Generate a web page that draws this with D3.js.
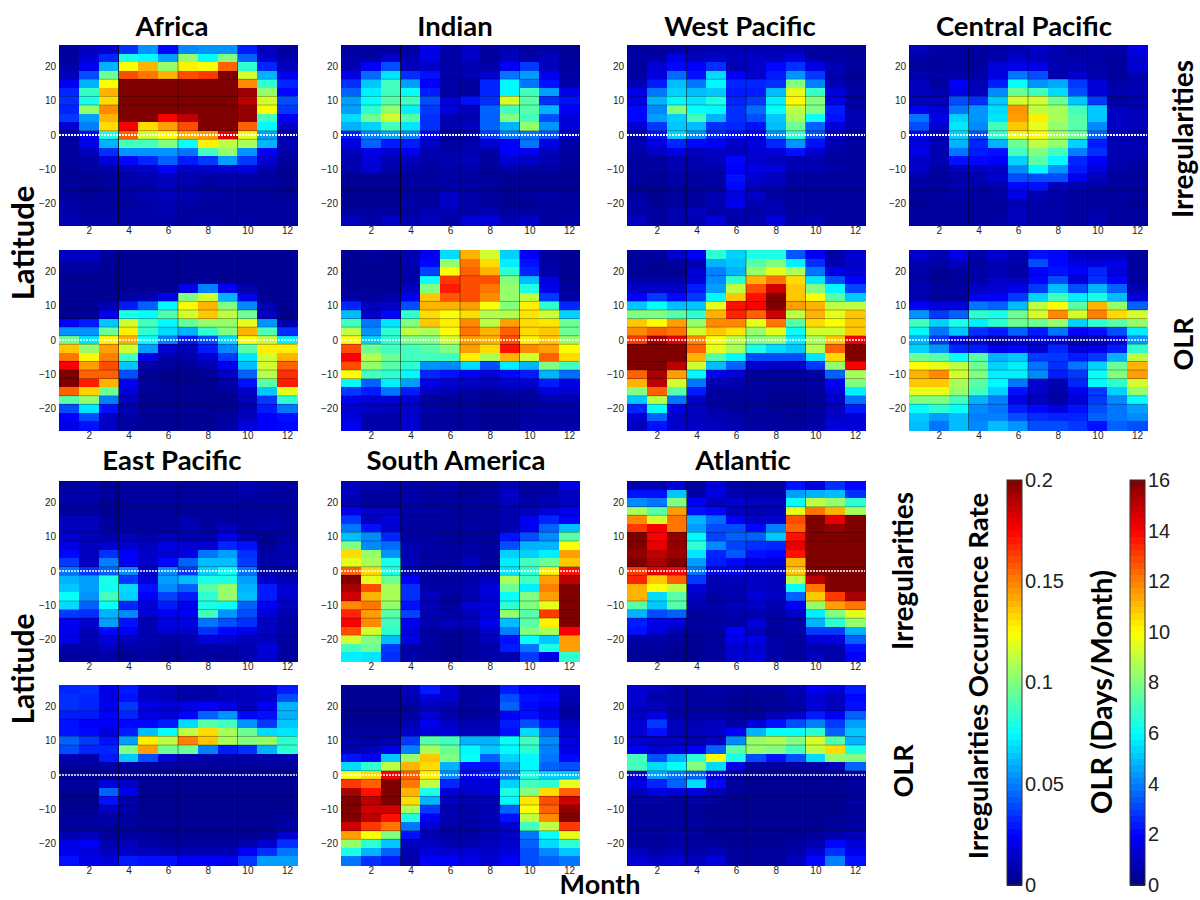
<!DOCTYPE html>
<html>
<head>
<meta charset="utf-8">
<script src="https://cdn.jsdelivr.net/npm/d3@7"></script>
<style>
body { margin: 0; background: #fff; }
svg { display: block; }
.label { font-family: Lato, "Open Sans", sans-serif; font-weight: 700; fill: #000; text-anchor: middle; }
.tick text { font-family: "Liberation Sans", Arial, sans-serif; fill: #222; }
</style>
</head>
<body>
<div id="chart"></div>
<script>
// Months and latitudes of the grid
const months = d3.range(1, 13);
const lats = d3.range(0, 21).map(i => 25 - i * 2.5);
const monthTicks = [2, 4, 6, 8, 10, 12];
const latTicks = [-20, -10, 0, 10, 20];
const rateTicks = [0, 0.05, 0.1, 0.15, 0.2];
const olrTicks = [0, 2, 4, 6, 8, 10, 12, 14, 16];

// Values, in percent of the colour bar's full scale.
// One line per latitude (north to south), one number per month.
const africaIrr = [
[3,6,8,17,27,13,26,27,27,15,6,3],[3,8,16,40,37,28,52,37,50,22,8,4],[4,11,30,62,70,52,64,62,78,42,16,6],
[6,20,48,80,76,70,80,82,100,58,30,11],[11,30,62,100,100,100,100,100,100,74,42,16],[16,43,70,100,100,100,100,100,100,97,52,13],
[17,40,66,100,100,100,100,100,100,94,58,20],[16,52,74,100,100,100,100,100,100,98,62,18],[18,28,70,100,100,88,94,100,100,98,44,12],
[8,25,66,88,66,72,80,100,100,78,37,7],[5,13,40,78,58,62,70,72,90,60,28,5],[3,11,30,44,44,50,38,64,56,54,30,5],
[3,6,17,27,27,27,24,44,52,27,12,4],[3,4,9,13,16,22,15,18,28,18,8,3],[2,3,4,6,7,12,7,7,8,9,4,2],
[2,2,3,4,5,6,5,4,4,4,3,2],[3,2,3,4,4,6,4,3,4,3,3,2],[3,2,3,4,5,6,5,4,3,3,3,2],
[4,3,3,3,4,5,4,3,3,3,3,3],[4,3,3,4,4,5,3,3,3,3,3,3],[5,4,4,4,4,4,3,4,3,4,3,3]];

const indianIrr = [
[3,3,3,3,10,4,7,3,5,3,4,2],[4,4,8,5,10,4,7,3,6,4,6,3],[5,12,20,6,7,4,5,4,12,18,6,3],
[10,23,35,17,14,4,5,8,24,28,11,4],[17,32,44,28,12,4,3,16,37,24,14,4],[22,36,44,38,15,4,3,16,37,44,28,10],
[28,38,46,44,20,9,14,17,58,46,17,14],[28,42,52,36,18,9,6,22,44,46,30,12],[34,48,58,46,17,5,5,22,50,44,20,9],
[30,33,44,35,17,5,6,22,30,52,27,9],[15,25,28,25,12,4,5,18,24,24,20,8],[10,22,15,15,7,3,4,8,12,24,10,4],
[6,10,8,11,5,4,5,4,12,11,6,3],[5,9,5,6,4,5,6,3,8,7,5,3],[4,8,4,4,3,4,4,2,4,3,3,2],
[2,2,2,3,3,4,3,3,2,2,2,2],[2,2,2,3,3,4,4,3,2,2,2,2],[2,2,2,3,3,7,4,3,2,3,4,3],
[2,2,2,4,3,7,4,3,2,2,3,3],[3,3,3,3,5,5,4,5,3,3,3,3],[6,4,7,5,6,4,9,9,5,7,3,4]];

const westPacIrr = [
[3,3,4,4,5,5,5,5,5,3,3,2],[4,4,10,6,7,6,7,6,9,4,3,3],[3,8,13,12,17,5,7,13,17,10,5,3],
[4,10,23,14,34,12,8,15,27,18,5,2],[5,15,31,24,37,16,16,17,50,25,5,3],[10,24,33,31,32,15,15,31,60,43,9,4],
[10,30,37,35,40,16,18,36,63,50,10,4],[13,26,50,38,37,17,23,38,56,50,15,4],[13,28,33,44,30,17,20,32,54,38,14,5],
[8,18,32,31,17,16,14,31,48,22,9,5],[5,14,33,26,16,14,12,26,42,20,7,4],[5,10,16,13,12,7,9,16,27,14,5,3],
[4,7,10,6,7,6,8,9,14,8,4,3],[3,3,5,5,6,13,8,6,5,5,3,3],[3,3,5,4,4,12,10,9,5,5,4,3],
[3,2,4,3,4,14,8,6,3,3,3,3],[2,2,3,3,3,13,6,5,3,3,3,3],[3,2,3,3,5,9,7,3,3,3,3,3],
[4,2,3,3,5,11,5,5,3,3,3,3],[4,3,5,6,4,5,4,5,3,3,3,3],[6,3,5,5,9,4,5,9,4,5,3,3]];

const centralPacIrr = [
[6,4,3,3,4,5,7,5,3,4,4,10],[4,3,3,3,4,7,6,4,4,4,3,8],[3,3,3,3,9,10,10,5,5,4,3,8],
[5,4,5,4,10,24,20,5,8,5,3,5],[6,3,12,5,15,38,27,29,18,9,4,5],[6,5,10,6,26,48,44,34,20,9,5,5],
[6,6,20,17,32,58,58,48,32,18,4,5],[11,8,24,27,34,73,56,54,44,32,6,5],[24,10,33,27,35,72,64,54,46,32,7,6],
[20,8,35,26,44,68,60,52,46,26,7,6],[12,6,33,20,42,60,63,54,48,22,6,5],[9,5,30,16,30,48,56,52,33,15,5,5],
[10,5,24,15,14,44,50,44,25,17,5,5],[7,5,14,13,12,33,46,37,16,12,5,4],[7,3,6,6,7,26,37,27,15,9,4,3],
[4,3,4,5,8,20,20,20,11,6,3,3],[4,3,5,4,5,13,14,6,5,4,3,3],[3,3,4,3,4,10,5,4,3,3,3,3],
[2,3,3,3,3,5,4,4,3,3,3,2],[3,3,3,3,3,6,4,4,3,4,3,3],[3,3,3,3,4,6,4,4,3,5,3,3]];

const africaOlr = [
[7,7,3,2,2,2,2,2,2,2,2,2],[4,4,2,2,2,2,2,2,2,2,2,2],[3,3,2,2,2,2,2,2,2,2,2,2],
[2,2,2,2,2,2,2,3,2,2,2,2],[2,2,2,2,2,2,10,25,12,4,2,2],[2,2,2,4,5,10,50,58,30,10,2,2],
[2,2,5,15,22,37,63,70,50,26,5,2],[2,3,11,40,38,45,58,68,56,48,7,2],[12,15,32,58,44,37,47,52,52,60,27,5],
[27,27,48,64,42,34,30,42,50,70,45,17],[48,35,63,70,38,25,15,20,34,62,56,36],[68,52,72,58,28,8,6,15,26,46,64,64],
[76,63,75,44,10,4,4,8,18,35,58,70],[88,72,80,32,4,3,3,5,11,31,58,78],[100,78,78,20,3,2,2,3,7,22,55,83],
[100,85,70,11,3,2,2,2,4,14,46,85],[78,67,48,9,2,2,2,2,3,7,32,60],[46,52,25,6,2,2,2,2,2,6,18,42],
[20,35,14,5,2,2,2,2,2,5,15,24],[12,20,7,4,2,2,2,2,3,6,12,14],[10,14,7,3,2,2,2,2,4,9,12,13]];

const indianOlr = [
[2,3,2,5,11,34,70,58,33,12,3,2],[2,2,2,5,13,52,76,66,36,14,4,2],[2,2,2,4,19,62,78,70,42,16,4,2],
[2,2,2,4,38,82,80,80,50,31,9,2],[2,2,2,6,50,85,80,76,52,40,10,3],[4,3,4,11,68,79,80,74,52,56,18,4],
[16,6,7,20,70,70,72,62,50,64,42,16],[31,8,13,42,66,62,66,55,55,65,57,33],[44,24,35,50,68,64,74,56,72,66,65,48],
[56,27,42,56,54,62,76,70,78,66,68,48],[62,33,42,50,50,58,72,70,80,64,68,52],[80,48,44,44,46,50,72,66,86,74,72,62],
[88,55,48,44,44,44,64,54,70,58,78,66],[80,52,46,42,27,26,34,20,36,30,50,44],[62,44,42,37,16,14,12,9,13,15,30,23],
[37,22,36,28,10,8,7,6,8,8,15,10],[18,15,24,15,6,5,4,3,4,4,9,8],[11,9,9,8,3,3,3,2,2,3,5,5],
[8,7,6,7,4,3,3,2,2,3,4,4],[9,4,4,8,3,3,3,2,2,3,3,3],[11,4,4,8,3,3,3,2,2,4,4,4]];

const westPacOlr = [
[3,3,8,12,42,33,40,40,21,12,4,8],[3,2,3,5,30,32,46,50,36,17,5,7],[2,2,2,8,25,30,52,60,54,24,10,8],
[4,4,4,9,26,42,70,76,66,35,20,12],[7,7,7,15,28,56,80,92,68,50,37,19],[12,18,13,18,37,68,86,100,68,62,46,32],
[32,38,31,32,60,86,88,100,72,70,56,56],[50,50,46,42,70,84,78,92,56,70,60,68],[68,63,72,52,74,74,60,76,46,66,62,68],
[74,78,76,58,68,65,52,60,38,58,58,68],[82,96,90,74,62,56,50,52,36,54,68,88],[100,100,100,78,60,54,40,34,32,55,78,100],
[100,100,100,70,46,37,20,20,20,35,66,100],[100,100,94,58,31,22,8,7,7,18,52,88],[78,96,72,37,11,9,3,3,3,4,22,54],
[70,94,58,24,5,5,3,3,3,3,12,50],[50,78,46,15,3,3,3,2,2,3,9,36],[32,56,24,7,3,3,3,2,2,3,7,24],
[16,38,10,6,4,3,3,2,2,3,6,15],[8,22,7,6,5,4,3,3,2,3,7,9],[6,14,8,7,6,5,4,3,3,4,9,9]];

const centralPacOlr = [
[8,5,10,4,8,5,14,13,7,6,6,3],[5,4,6,3,5,4,20,13,10,9,10,3],[4,2,3,4,5,4,12,14,12,16,9,3],
[4,2,3,4,7,6,13,20,9,17,12,3],[5,3,3,7,8,10,18,31,20,30,22,5],[5,3,3,11,12,18,33,44,36,40,31,9],
[12,9,9,24,22,31,56,62,46,70,52,22],[27,18,22,42,40,48,58,74,58,75,66,58],[44,33,40,36,42,48,48,52,33,42,46,52],
[37,24,32,17,15,22,15,24,12,14,20,36],[30,18,10,8,4,7,10,8,4,5,10,27],[33,27,16,15,11,13,8,16,9,10,15,42],
[48,46,38,46,30,32,18,18,15,18,30,56],[62,60,56,48,33,36,24,17,24,33,48,70],[70,74,58,50,36,36,26,15,18,38,50,72],
[68,68,54,46,37,24,8,5,16,37,42,58],[60,60,52,44,33,14,7,4,11,18,33,52],[50,50,44,30,25,10,6,4,9,18,26,38],
[38,42,38,26,24,15,13,10,14,20,24,28],[32,28,31,25,25,20,17,16,16,22,24,26],[31,24,31,26,31,27,20,20,18,14,22,20]];

const eastPacIrr = [
[3,4,2,3,3,3,2,3,3,5,4,3],[4,4,3,3,3,3,3,3,3,4,3,3],[4,4,2,3,3,3,3,3,3,3,3,3],
[3,3,2,3,3,3,3,3,3,3,3,3],[6,6,3,3,3,3,5,3,3,3,4,3],[6,6,3,3,3,3,5,3,6,3,4,3],
[8,6,5,6,5,6,5,5,10,5,2,4],[10,6,8,8,6,10,8,8,16,14,2,5],[13,6,17,12,7,8,10,24,28,17,4,4],
[18,7,25,12,7,13,22,31,31,18,4,5],[24,18,22,26,8,26,18,33,38,24,5,3],[30,28,40,18,9,28,31,40,40,28,7,5],
[32,28,39,34,14,26,22,46,52,30,15,8],[38,27,44,33,12,19,15,42,52,31,15,8],[34,22,38,16,9,15,11,40,38,22,11,6],
[18,17,30,26,8,11,11,44,27,20,9,5],[11,8,28,14,5,10,10,24,20,17,7,4],[11,6,13,12,5,8,7,17,13,10,6,4],
[10,5,9,6,5,4,5,9,8,6,6,3],[4,4,6,4,4,3,4,4,4,5,9,3],[3,3,4,2,3,2,3,3,3,5,8,3]];

const southAmIrr = [
[6,5,4,4,3,4,2,2,5,3,3,10],[6,3,3,4,3,3,2,3,7,3,4,6],[5,3,3,4,3,3,3,3,6,4,5,7],
[11,7,7,4,4,3,3,3,5,6,9,11],[18,6,9,3,3,3,3,3,5,11,16,12],[24,14,8,3,3,3,4,3,5,11,22,31],
[31,26,16,4,4,3,3,3,14,20,26,46],[50,26,23,5,4,3,4,3,20,30,30,62],[66,52,27,5,3,3,4,3,33,33,36,72],
[60,54,40,6,3,3,6,3,36,44,48,68],[78,66,40,5,3,3,4,3,35,42,64,86],[100,60,48,12,3,3,4,6,54,44,72,94],
[96,80,54,17,4,4,5,9,48,36,75,100],[92,70,54,17,6,3,5,9,38,50,72,100],[74,76,52,14,5,3,8,9,42,50,60,100],
[84,72,46,19,5,4,6,9,52,46,82,100],[88,74,44,11,5,6,6,11,31,46,64,100],[80,58,42,9,3,3,3,7,25,50,54,88],
[58,50,31,10,4,2,3,6,14,38,32,72],[44,48,18,4,3,2,3,4,15,24,40,72],[36,35,17,4,3,2,3,4,5,18,10,42]];

const atlanticIrr = [
[5,5,9,3,9,4,3,3,14,9,17,13],[14,14,32,4,10,5,4,4,28,30,31,17],[26,24,50,12,6,8,6,6,38,56,52,42],
[54,46,72,14,13,6,5,6,60,76,70,54],[74,58,76,30,23,12,7,8,80,100,90,100],[82,88,76,28,20,20,13,25,78,100,98,100],
[100,88,98,37,19,22,22,32,86,100,100,100],[100,90,98,42,26,19,17,16,90,100,100,100],[98,94,97,35,16,21,14,13,86,100,100,100],
[100,96,100,28,15,13,10,9,70,100,100,100],[82,90,88,24,10,11,8,8,68,100,100,100],[84,68,78,18,5,6,7,6,56,94,100,100],
[70,62,56,9,5,5,7,6,38,76,100,100],[70,34,46,7,4,5,9,7,22,68,82,96],[46,32,46,5,4,6,7,5,12,52,72,76],
[30,20,22,3,4,5,5,4,7,36,50,60],[15,10,9,3,4,4,9,3,4,30,42,52],[14,9,5,3,3,12,6,3,4,18,18,30],
[4,4,3,2,3,10,10,4,3,9,9,22],[3,3,2,2,3,8,8,4,3,5,5,14],[3,2,2,2,3,8,9,4,3,6,4,12]];

const eastPacOlr = [
[16,17,10,15,7,6,4,4,6,6,8,15],[17,16,10,14,7,6,4,4,6,6,7,20],[17,16,11,18,10,9,10,12,10,6,12,30],
[15,15,12,16,10,9,13,22,27,13,14,30],[14,12,12,13,13,15,34,46,44,27,18,32],[14,13,9,15,31,38,56,66,54,48,34,35],
[22,18,14,28,64,56,75,68,54,50,52,42],[20,16,16,50,72,48,48,25,15,17,30,42],[5,4,15,32,20,8,5,4,4,4,4,5],
[3,3,4,4,3,3,3,3,3,3,3,3],[2,2,2,2,2,2,2,2,2,2,2,2],[3,3,9,7,2,2,2,2,2,2,2,2],
[2,2,22,11,2,2,2,2,2,2,2,2],[2,2,14,5,2,2,2,2,2,2,2,2],[2,2,7,4,2,2,2,2,2,2,2,2],
[3,3,4,3,2,2,2,2,2,2,2,3],[3,3,3,3,2,2,2,2,2,2,2,4],[5,6,3,3,3,2,2,2,2,2,3,8],
[10,12,5,6,4,3,3,3,3,5,8,17],[11,9,6,7,6,5,5,5,5,12,17,24],[14,10,9,15,14,14,12,12,11,18,28,28]];

const southAmOlr = [
[2,2,2,6,15,8,3,3,15,12,11,6],[2,2,2,5,9,8,3,4,20,14,13,5],[2,2,2,3,6,5,3,4,22,13,11,4],
[2,2,2,4,9,5,3,4,12,14,10,4],[2,2,2,5,11,7,5,5,15,20,14,6],[3,3,3,7,9,9,6,6,14,34,22,8],
[5,4,5,18,46,44,30,30,38,44,26,10],[5,6,10,25,54,48,37,32,37,42,25,10],[14,12,32,52,68,50,38,22,33,37,24,13],
[34,42,56,70,66,30,14,14,28,37,22,20],[62,66,88,78,64,26,12,15,25,40,33,32],[82,78,100,76,56,16,9,9,33,44,42,60],
[96,86,100,70,40,9,8,9,40,50,66,78],[100,94,100,66,30,7,5,6,37,65,80,92],[100,92,92,54,18,5,4,5,22,62,78,98],
[100,94,86,40,12,5,4,5,14,56,74,100],[92,82,76,24,8,4,4,5,8,44,56,82],[72,62,50,14,5,4,4,5,7,24,38,60],
[52,42,32,6,7,5,5,6,8,22,34,42],[40,30,22,5,9,8,8,7,9,20,26,32],[24,17,15,4,12,12,10,8,12,20,22,24]];

const atlanticOlr = [
[8,6,4,3,4,3,3,3,5,11,9,15],[8,4,4,3,3,2,2,2,4,8,6,13],[7,6,4,3,3,2,2,3,4,9,6,14],
[7,10,4,4,4,3,3,6,8,15,12,22],[8,18,6,5,6,4,9,14,20,25,18,28],[8,14,6,6,7,12,30,38,38,42,22,32],
[8,7,6,5,7,26,52,54,50,58,46,30],[12,8,9,12,22,46,52,50,44,56,66,40],[44,20,30,42,62,40,20,14,20,34,52,50],
[44,34,38,50,34,10,4,3,3,4,6,22],[8,28,24,22,10,3,2,2,2,2,2,3],[10,16,22,34,13,3,2,2,2,2,2,3],
[6,10,9,9,6,3,2,2,2,2,2,3],[4,4,3,4,3,2,2,2,2,2,2,4],[3,3,3,3,2,2,2,2,2,2,2,3],
[3,3,3,3,2,2,2,2,2,2,2,3],[3,3,3,3,2,2,2,2,2,2,3,4],[3,3,4,3,2,2,2,2,2,3,5,6],
[3,3,4,3,3,2,2,2,3,5,13,9],[6,4,5,4,5,3,3,3,4,8,17,11],[8,7,8,6,9,3,3,3,6,13,25,14]];

// Panel layout
const colX = [59, 341, 627, 909];
const rowY = [45, 250, 481, 685];
const panelW = 238, panelH = 180;

// Dark row lines that show up in each row of panels (index of the edge from the top)
const rowEdges = [
    [4, 6, 7, 10, 11, 15, 17],
    [3, 6, 7, 8, 9, 10, 11, 13, 14, 15, 17, 18],
    [3, 4, 6, 7, 10, 11, 14, 15, 16, 18],
    [3, 4, 6, 7, 10, 11, 13, 14, 15, 17, 18]
];

const panels = [
    { data: africaIrr, col: 0, row: 0, title: 'Africa', titleX: 172 },
    { data: indianIrr, col: 1, row: 0, title: 'Indian', titleX: 455 },
    { data: westPacIrr, col: 2, row: 0, title: 'West Pacific', titleX: 740 },
    { data: centralPacIrr, col: 3, row: 0, title: 'Central Pacific', titleX: 1024 },
    { data: africaOlr, col: 0, row: 1 },
    { data: indianOlr, col: 1, row: 1 },
    { data: westPacOlr, col: 2, row: 1 },
    { data: centralPacOlr, col: 3, row: 1 },
    { data: eastPacIrr, col: 0, row: 2, title: 'East Pacific', titleX: 172 },
    { data: southAmIrr, col: 1, row: 2, title: 'South America', titleX: 456 },
    { data: atlanticIrr, col: 2, row: 2, title: 'Atlantic', titleX: 743 },
    { data: eastPacOlr, col: 0, row: 3 },
    { data: southAmOlr, col: 1, row: 3 },
    { data: atlanticOlr, col: 2, row: 3 }
];

const svg = d3.select('#chart').append('svg').attr('width', 1200).attr('height', 900);

// Jet colour map
const jet = d3.scaleLinear()
    .domain([0, 12.5, 37.5, 62.5, 87.5, 100])
    .range(['#000080', '#0000ff', '#00ffff', '#ffff00', '#ff0000', '#800000'])
    .clamp(true);

const xScale = d3.scaleLinear().domain([0.5, 12.5]).range([0, panelW]);
const yScale = d3.scaleLinear().domain([-26.25, 26.25]).range([panelH, 0]);

function drawPanel(p) {
    const g = svg.append('g').attr('transform', `translate(${colX[p.col]}, ${rowY[p.row]})`);

    p.data.forEach((vals, r) => {
        g.selectAll(null).data(vals).enter().append('rect')
            .attr('x', (d, i) => xScale(months[i] - 0.5))
            .attr('y', yScale(lats[r] + 1.25))
            .attr('width', xScale(1.5) - xScale(0.5) + 0.5)
            .attr('height', yScale(0) - yScale(2.5) + 0.5)
            .attr('fill', d => jet(d))
            .attr('shape-rendering', 'crispEdges');
    });

    // thin dark cell edges
    rowEdges[p.row].forEach(e => {
        g.append('line')
            .attr('x1', 0).attr('x2', panelW)
            .attr('y1', yScale(26.25 - e * 2.5)).attr('y2', yScale(26.25 - e * 2.5))
            .attr('stroke', '#000').attr('stroke-opacity', 0.3);
    });
    [[3.5, p.row === 0 && p.col < 2 ? 0.75 : 0.5], [6.5, 0.4], [9.5, 0.4]].forEach(v => {
        g.append('line')
            .attr('x1', xScale(v[0])).attr('x2', xScale(v[0]))
            .attr('y1', 0).attr('y2', panelH)
            .attr('stroke', '#000').attr('stroke-opacity', v[1]);
    });

    // equator
    g.append('line')
        .attr('x1', 0).attr('x2', panelW)
        .attr('y1', yScale(0)).attr('y2', yScale(0))
        .attr('stroke', '#fff').attr('stroke-width', p.row === 0 ? 2 : 1.5).attr('stroke-dasharray', '2 1');

    const xAxis = d3.axisBottom(xScale).tickValues(monthTicks).tickSize(0).tickPadding(2);
    const yAxis = d3.axisLeft(yScale).tickValues(latTicks).tickSize(0).tickPadding(3);
    g.append('g').attr('transform', `translate(0, ${panelH})`).call(xAxis)
        .call(a => a.select('.domain').remove())
        .selectAll('text').attr('font-size', 10);
    g.append('g').call(yAxis)
        .call(a => a.select('.domain').remove())
        .selectAll('text').attr('font-size', 10);

    if (p.title) {
        svg.append('text').attr('class', 'label')
            .attr('x', p.titleX)
            .attr('y', rowY[p.row] - (p.row === 2 ? 11 : 9))
            .attr('font-size', 27.5)
            .text(p.title);
    }
}
panels.forEach(drawPanel);

// Rotated labels
function sideLabel(text, x, y, size) {
    svg.append('text').attr('class', 'label')
        .attr('transform', `translate(${x}, ${y}) rotate(-90)`)
        .attr('font-size', size)
        .text(text);
}
sideLabel('Irregularities', 1193, 139, 28);
sideLabel('OLR', 1193, 344, 27);
sideLabel('Irregularities', 913, 571, 28);
sideLabel('OLR', 913, 771, 27);
sideLabel('Latitude', 34, 243, 31);
sideLabel('Latitude', 34, 669, 30);
sideLabel('Irregularities Occurrence Rate', 988, 676, 27.5);
sideLabel('OLR (Days/Month)', 1112, 692, 29);

svg.append('text').attr('class', 'label')
    .attr('x', 600).attr('y', 894).attr('font-size', 27).text('Month');

// Colour bars
function colorbar(x, maxVal, ticks, fmt) {
    const barTop = 480, barH = 405, barW = 15;
    const s = d3.scaleLinear().domain([0, maxVal]).range([barTop + barH, barTop]);
    const levels = d3.range(0, 64);
    svg.append('g').selectAll('rect').data(levels).enter().append('rect')
        .attr('x', x)
        .attr('y', d => s((d + 1) / 64 * maxVal))
        .attr('width', barW)
        .attr('height', barH / 64 + 0.5)
        .attr('fill', d => jet((d + 0.5) / 64 * 100))
        .attr('shape-rendering', 'crispEdges');
    svg.append('rect').attr('x', x).attr('y', barTop).attr('width', barW).attr('height', barH)
        .attr('fill', 'none').attr('stroke', '#333');
    svg.append('g').attr('transform', `translate(${x + barW}, 0)`)
        .call(d3.axisRight(s).tickValues(ticks).tickFormat(fmt).tickSize(0).tickPadding(3))
        .call(a => a.select('.domain').remove())
        .selectAll('text').attr('font-size', 20);
}
colorbar(1007, 0.2, rateTicks, d => String(d));
colorbar(1130, 16, olrTicks, d => String(d));
</script>
</body>
</html>
